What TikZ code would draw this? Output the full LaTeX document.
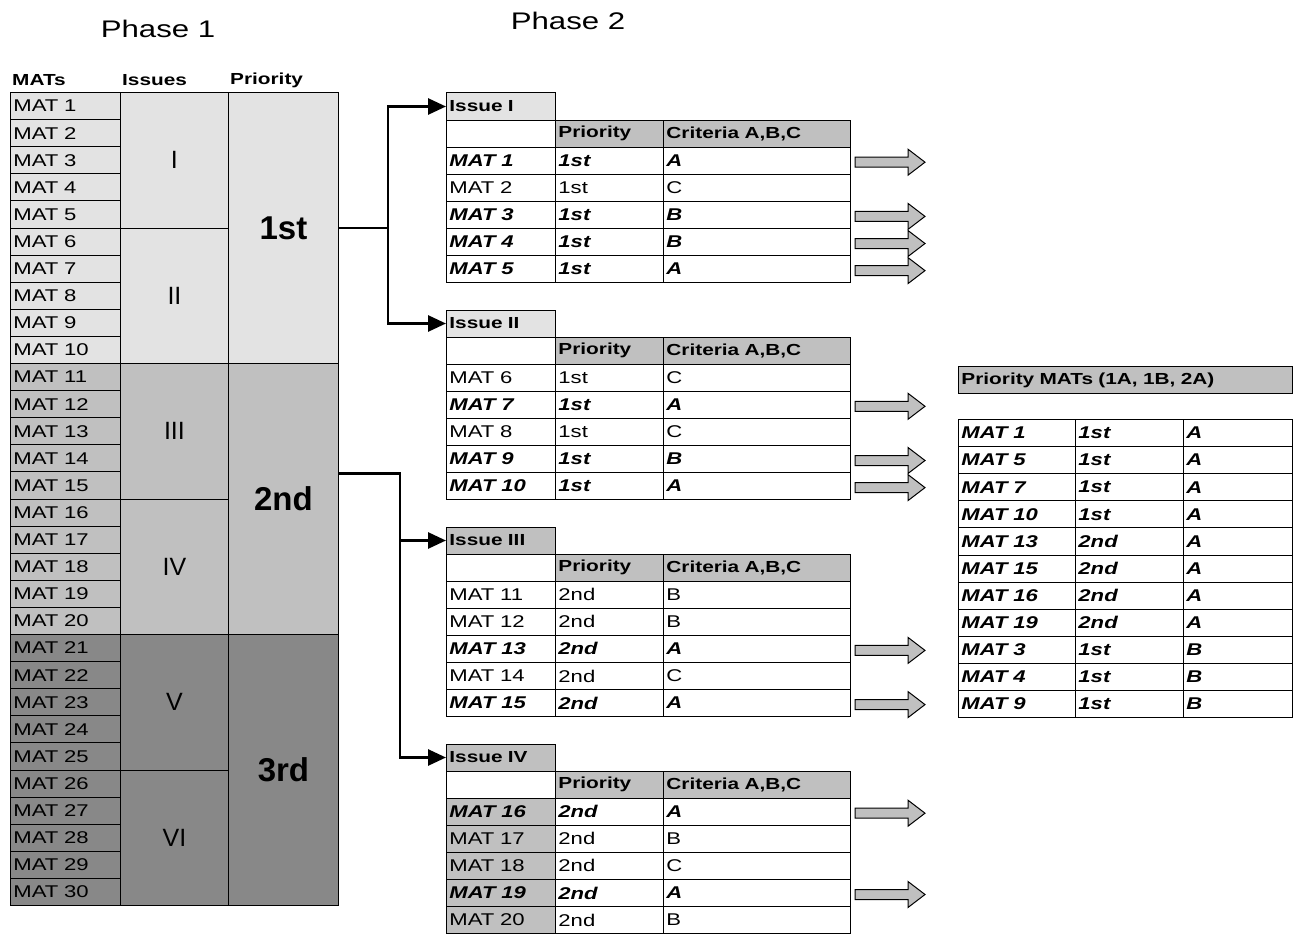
\documentclass[tikz,border=0pt]{standalone}
\usepackage{fontspec}
\setmainfont{Liberation Sans}[FakeStretch=1.3]
\newfontfamily\plainsans{Liberation Sans}
\usetikzlibrary{arrows.meta}
\definecolor{paleg}{HTML}{E3E3E3}
\definecolor{midg}{HTML}{C0C0C0}
\definecolor{darkg}{HTML}{888888}

\begin{document}
\begin{tikzpicture}[
    x=1pt, y=-1pt,
    tcell/.style={draw, line width=0.9pt, anchor=north west, minimum height=27.1pt,
        text width=#1, inner xsep=3pt, inner ysep=0pt, align=left,
        font=\fontsize{17}{19}\selectfont},
    grp/.style={draw, line width=0.9pt, anchor=north west, inner sep=0pt},
    head/.style={font=\fontsize{16}{19}\selectfont\bfseries},
    link/.style={line width=2.8pt, -{Triangle[length=18pt,width=16pt]}},
    fatarrow/.style={draw=black, line width=1pt, fill=midg}
]
\useasboundingbox (0,0) rectangle (1294,934);

\node[font=\fontsize{24}{24}\selectfont] (phase1) at (158,29) {Phase 1};
\node[font=\fontsize{24}{24}\selectfont] (phase2) at (568,21) {Phase 2};

% phase 1 overview
\node[head, anchor=west, inner sep=0pt] (hmats) at (12,80) {MATs};
\node[head, anchor=west, inner sep=0pt] (hissues) at (122,80) {Issues};
\node[head, anchor=west, inner sep=0pt] (hprio) at (230,80) {Priority};

\foreach \i in {1,...,30}{
  \ifnum\i<11 \def\cc{paleg}\else\ifnum\i<21 \def\cc{midg}\else\def\cc{darkg}\fi\fi
  \node[tcell=104pt, fill=\cc] (mat\i) at (10,{92+(\i-1)*27.1}) {MAT \i};
}
\foreach \lab [count=\k from 0] in {I,II,III,IV,V,VI}{
  \pgfmathtruncatemacro\band{\k/2}
  \ifcase\band \def\cc{paleg}\or \def\cc{midg}\or \def\cc{darkg}\fi
  \node[grp, fill=\cc, minimum width=108pt, minimum height=135.5pt,
        font=\fontsize{25}{25}\plainsans] (grp\lab) at (120,{92+135.5*\k}) {\lab};
}
\foreach \lab/\cc [count=\k] in {1st/paleg,2nd/midg,3rd/darkg}{
  \node[grp, fill=\cc, minimum width=110pt, minimum height=271pt,
        font=\fontsize{33}{33}\plainsans\bfseries] (prio\k) at (228,{92+271*(\k-1)}) {\lab};
}

% phase 2 issue tables
\foreach \lab/\hc [count=\k from 0] in {I/paleg,II/paleg,III/midg,IV/midg}{
  \node[tcell=103pt, fill=\hc, head] (issue\lab) at (446,{92.5+217*\k}) {Issue \lab};
  \node[tcell=103pt, fill=white] (blank\lab) at (446,{119.6+217*\k}) {};
  \node[tcell=102pt, fill=midg, head] (prhead\lab) at (555,{119.6+217*\k}) {Priority};
  \node[tcell=181pt, fill=midg, head] (crhead\lab) at (663,{119.6+217*\k}) {Criteria A,B,C};
}

\foreach \m/\p/\c/\b in {1/1st/A/1, 2/1st/C/0, 3/1st/B/1, 4/1st/B/1, 5/1st/A/1,
    6/1st/C/0, 7/1st/A/1, 8/1st/C/0, 9/1st/B/1, 10/1st/A/1,
    11/2nd/B/0, 12/2nd/B/0, 13/2nd/A/1, 14/2nd/C/0, 15/2nd/A/1,
    16/2nd/A/1, 17/2nd/B/0, 18/2nd/C/0, 19/2nd/A/1, 20/2nd/B/0}{
  \pgfmathtruncatemacro\t{(\m-1)/5}
  \pgfmathsetmacro\yy{146.7+217*\t+27.1*(\m-1-5*\t)}
  \ifnum\t=3 \def\mc{midg}\else\def\mc{white}\fi
  \ifnum\b=1 \def\fs{\bfseries\itshape}\else\def\fs{}\fi
  \node[tcell=103pt, fill=\mc] (row\m) at (446,\yy) {\fs MAT \m};
  \node[tcell=102pt] (rowp\m) at (555,\yy) {\fs \p};
  \node[tcell=181pt] (rowc\m) at (663,\yy) {\fs \c};
  \ifnum\b=1
    \draw[fatarrow] (855,{\yy+10.5}) -- ++(53,0) -- ++(0,-8) -- ++(17,13)
      -- ++(-17,13) -- ++(0,-8) -- ++(-53,0) -- cycle;
  \fi
}

% selected MATs
\node[tcell=328pt, fill=midg, head] (prmats) at (958,366) {Priority MATs (1A, 1B, 2A)};
\foreach \m/\p/\c [count=\k from 0] in {1/1st/A, 5/1st/A, 7/1st/A, 10/1st/A, 13/2nd/A,
    15/2nd/A, 16/2nd/A, 19/2nd/A, 3/1st/B, 4/1st/B, 9/1st/B}{
  \node[tcell=111pt] (sel\k) at (958,{419+27.1*\k}) {\bfseries\itshape MAT \m};
  \node[tcell=102pt] (selp\k) at (1075,{419+27.1*\k}) {\bfseries\itshape \p};
  \node[tcell=103pt] (selc\k) at (1183,{419+27.1*\k}) {\bfseries\itshape \c};
}

% links
\coordinate (bus1) at (388,0);
\coordinate (bus2) at (400,0);
\draw[link] (prio1.east) -- (prio1.east -| bus1) |- (issueI.west);
\draw[link] (prio1.east -| bus1) |- (issueII.west);
\draw[link] ([yshift=25.5pt]prio2.east) -- ([yshift=25.5pt]prio2.east -| bus2) |- (issueIII.west);
\draw[link] ([yshift=25.5pt]prio2.east -| bus2) |- (issueIV.west);

\end{tikzpicture}
\end{document}
